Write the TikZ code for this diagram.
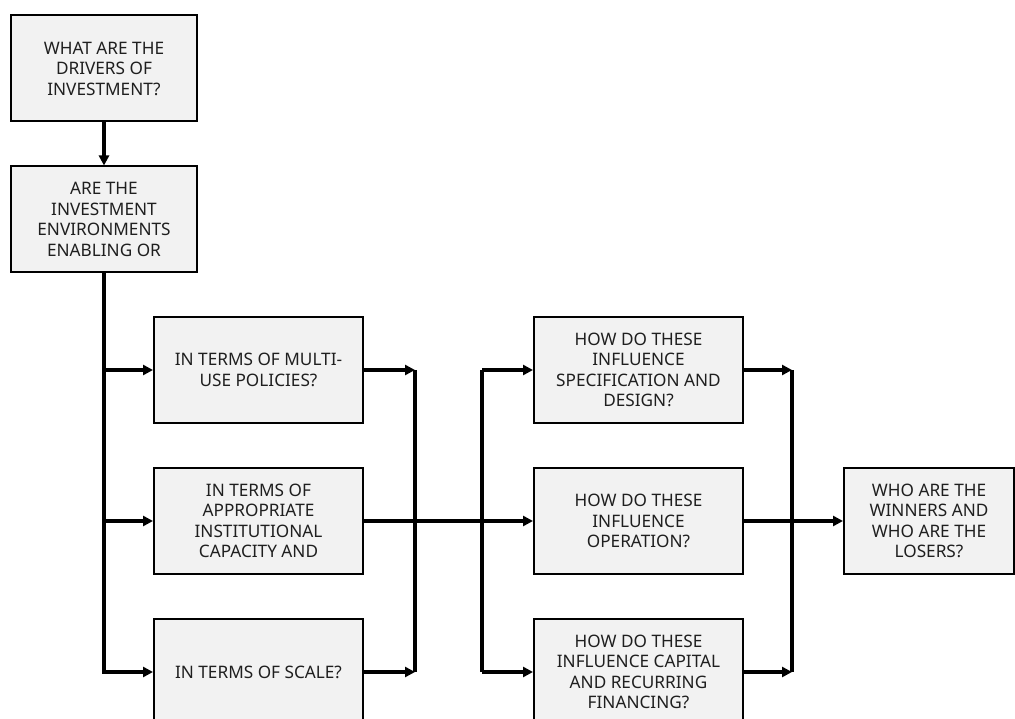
\documentclass[tikz,border=0pt]{standalone}
\usepackage{fontspec}
\setmainfont{Noto Sans}
\usepackage{tikz}
\usetikzlibrary{arrows.meta}

\begin{document}
\begin{tikzpicture}[
    x=1pt, y=-1pt,
    box/.style={rectangle, draw=black, line width=2pt, fill=gray!10, inner sep=0pt,
        minimum height=106pt, minimum width=209pt, align=center,
        font=\fontsize{17.2}{20.5}\selectfont, text=black!88},
    narrow/.style={box, minimum width=186pt},
    arrow/.style={-{Triangle[length=10pt,width=10pt]}, line width=3.4pt},
    line/.style={line width=3.4pt}
]
    \useasboundingbox (0,0) rectangle (1015,719);
    \begin{scope}
    \clip (0,0) rectangle (1015,719);

    % Nodes
    \node[narrow] (drivers) at (104,68.5) {WHAT ARE THE\\DRIVERS OF\\INVESTMENT?};
    \node[narrow] (environments) at (104,219.5) {ARE THE\\INVESTMENT\\ENVIRONMENTS\\ENABLING OR};
    \node[box] (policies) at (258.5,370) {IN TERMS OF MULTI-\\USE POLICIES?};
    \node[box] (capacity) at (258.5,521) {IN TERMS OF\\APPROPRIATE\\INSTITUTIONAL\\CAPACITY AND};
    \node[box] (scale) at (258.5,672) {IN TERMS OF SCALE?};
    \node[box] (design) at (638.5,370) {HOW DO THESE\\INFLUENCE\\SPECIFICATION AND\\DESIGN?};
    \node[box] (operation) at (638.5,521) {HOW DO THESE\\INFLUENCE\\OPERATION?};
    \node[box] (financing) at (638.5,672) {HOW DO THESE\\INFLUENCE CAPITAL\\AND RECURRING\\FINANCING?};
    \node[box, minimum width=170pt] (outcome) at (929,521) {WHO ARE THE\\WINNERS AND\\WHO ARE THE\\LOSERS?};

    % Junctions
    \coordinate (mergeA) at (415,370);
    \coordinate (mergeB) at (415,672);
    \coordinate (splitA) at (482,370);
    \coordinate (splitB) at (482,672);
    \coordinate (mergeC) at (792,370);
    \coordinate (mergeD) at (792,672);

    % Arrows
    \draw[arrow] (drivers) -- (environments);
    \draw[arrow] (environments.south) |- (policies);
    \draw[arrow] (environments.south) |- (capacity);
    \draw[arrow] (environments.south) |- (scale);

    \draw[arrow] (policies) -- (mergeA);
    \draw[arrow] (scale) -- (mergeB);
    \draw[line] (mergeA) -- (mergeB);

    \draw[line] (splitA) -- (splitB);
    \draw[arrow] (splitA) -- (design);
    \draw[arrow] (splitB) -- (financing);
    \draw[arrow] (capacity) -- (operation);

    \draw[arrow] (design) -- (mergeC);
    \draw[arrow] (financing) -- (mergeD);
    \draw[line] (mergeC) -- (mergeD);
    \draw[arrow] (operation) -- (outcome);
    \end{scope}
\end{tikzpicture}
\end{document}
